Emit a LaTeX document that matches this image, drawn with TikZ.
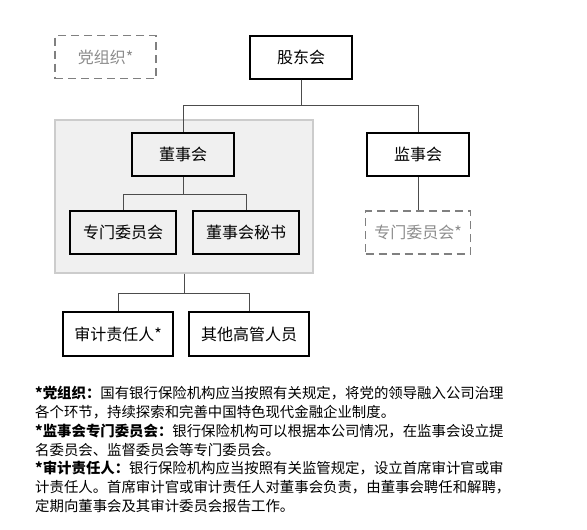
\documentclass[tikz,border=0pt]{standalone}
\usepackage{fontspec}
\newfontfamily\cjk{Noto Sans CJK SC}
\usetikzlibrary{arrows}
\usetikzlibrary{positioning}

\begin{document}
\begin{tikzpicture}
\tikzset{
   node distance = 97.5pt,
   box/.style = {rectangle, draw, line width = 2pt, minimum height = 43pt, inner sep = 0pt, font = \fontsize{16}{16}\cjk},
   board/.style = {box, minimum width = 102pt},
   member/.style = {box, minimum width = 106pt},
   officer/.style = {box, minimum width = 110pt},
   optional/.style = {box, draw = black!50, text = black!45, dash pattern = on 8pt off 5pt, line width = 1.6pt},
   panel/.style = {rectangle, draw = black!20, fill = black!6, line width = 1.2pt, minimum width = 258pt, minimum height = 153pt},
   link/.style = {draw = black!70, line width = 0.8pt},
   notes/.style = {anchor = north west, inner sep = 0pt, align = left, font = \fontsize{14.4}{18.8}\cjk}
}
  \useasboundingbox (0,0) rectangle (587pt,-530pt);

  % board area
  \node[panel] (panel) at (184pt,-196.5pt) {};

  \node[board] (gudong) at (301pt,-57pt) {股东会};
  \node[optional, minimum width = 101pt] (dangzu) [left of = gudong, node distance = 195.5pt] {党组织*};

  \node[board] (dongshi) [below of = gudong, xshift = -118pt] {董事会};
  \node[board] (jianshi) [below of = gudong, xshift = 117pt] {监事会};

  \node[member] (zhuanmen) [below of = dongshi, node distance = 78pt, xshift = -60pt] {专门委员会};
  \node[member] (mishu) [below of = dongshi, node distance = 78pt, xshift = 63pt] {董事会秘书};
  \node[optional, minimum width = 105pt] (jianshi_zm) [below of = jianshi, node distance = 78pt] {专门委员会*};

  \node[officer] (shenji) [below of = panel, node distance = 137.5pt, xshift = -66pt, minimum height = 44pt] {审计责任人*};
  \node[officer] (gaoguan) [below of = panel, node distance = 137.5pt, xshift = 65pt, minimum width = 120pt, minimum height = 44pt] {其他高管人员};

  % connectors
  \draw[link] (gudong.south) -- ++(0,-26pt) -| (dongshi.north);
  \draw[link] (gudong.south) -- ++(0,-26pt) -| (jianshi.north);
  \draw[link] (dongshi.south) -- ++(0,-17pt) -| (zhuanmen.north);
  \draw[link] (dongshi.south) -- ++(0,-17pt) -| (mishu.north);
  \draw[link] (jianshi.south) -- (jianshi_zm.north);
  \draw[link] (panel.south) -- ++(0,-20pt) -| (shenji.north);
  \draw[link] (panel.south) -- ++(0,-20pt) -| (gaoguan.north);

  % notes
  \node[notes] (notes) at (35pt,-386pt) {%
    \textbf{*党组织：}国有银行保险机构应当按照有关规定，将党的领导融入公司治理\\
    各个环节，持续探索和完善中国特色现代金融企业制度。\\
    \textbf{*监事会专门委员会：}银行保险机构可以根据本公司情况，在监事会设立提\\
    名委员会、监督委员会等专门委员会。\\
    \textbf{*审计责任人：}银行保险机构应当按照有关监管规定，设立首席审计官或审\\
    计责任人。首席审计官或审计责任人对董事会负责，由董事会聘任和解聘，\\
    定期向董事会及其审计委员会报告工作。};

\end{tikzpicture}
\end{document}
